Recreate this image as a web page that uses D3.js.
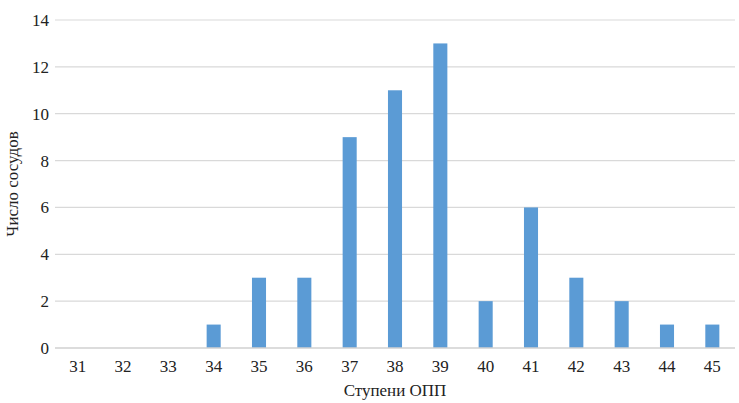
<!DOCTYPE html>
<html><head><meta charset="utf-8">
<script src="https://cdn.jsdelivr.net/npm/d3@7"></script>
<style>body{margin:0;background:#fff}svg{display:block}</style>
</head><body>
<svg id="c" width="739" height="403"></svg>
<script>
const categories = ["31","32","33","34","35","36","37","38","39","40","41","42","43","44","45"];
const values = [0,0,0,1,3,3,9,11,13,2,6,3,2,1,1];
const yTicks = [0,2,4,6,8,10,12,14];
const xTitle = "Ступени ОПП";
const yTitle = "Число сосудов";

const FONT = "'Liberation Serif', 'Times New Roman', 'DejaVu Serif', serif";
const svg = d3.select("#c");
const m = {l:55, r:4, t:20, b:55};
const W = 739, H = 403;
const x = d3.scaleBand().domain(categories).range([m.l, W-m.r]).paddingInner(0.69).paddingOuter(0.345);
const y = d3.scaleLinear().domain([0,14]).range([H-m.b, m.t]);

svg.append("g").selectAll("line").data(yTicks.filter(d=>d>0)).join("line")
  .attr("x1", m.l).attr("x2", W-m.r).attr("y1", d=>y(d)).attr("y2", d=>y(d))
  .attr("stroke", "#d9d9d9").attr("stroke-width", 1.2);

svg.append("g").selectAll("rect").data(values).join("rect")
  .attr("x", (d,i)=>x(categories[i])).attr("width", x.bandwidth())
  .attr("y", d=>y(d)).attr("height", d=>y(0)-y(d))
  .attr("fill", "#5b9bd5");

svg.append("line").attr("x1", m.l).attr("x2", W-m.r).attr("y1", y(0)).attr("y2", y(0))
  .attr("stroke", "#d0d0d0").attr("stroke-width", 1.5);

const yAxis = d3.axisLeft(y).tickValues(yTicks).tickSize(0).tickPadding(6);
const gy = svg.append("g").attr("transform", `translate(${m.l},0)`).call(yAxis)
  .attr("font-family", FONT).attr("font-size", 17);
gy.select(".domain").remove();
gy.selectAll("text").style("font-family", FONT).style("font-size","17px").style("fill","#222");

const xAxis = d3.axisBottom(x).tickSize(0).tickPadding(12);
const gx = svg.append("g").attr("transform", `translate(0,${y(0)})`).call(xAxis)
  .attr("font-family", FONT).attr("font-size", 17);
gx.select(".domain").remove();
gx.selectAll("text").style("font-family", FONT).style("font-size","17px").style("fill","#222");

svg.append("text").attr("x", (m.l+W-m.r)/2).attr("y", 396).attr("text-anchor","middle")
  .style("font-family", FONT).style("font-size","17px").style("fill","#222").text(xTitle);
svg.append("text").attr("transform", `translate(18,${(m.t+y(0))/2}) rotate(-90)`).attr("text-anchor","middle")
  .style("font-family", FONT).style("font-size","17px").style("fill","#222").text(yTitle);
</script>
</body></html>
